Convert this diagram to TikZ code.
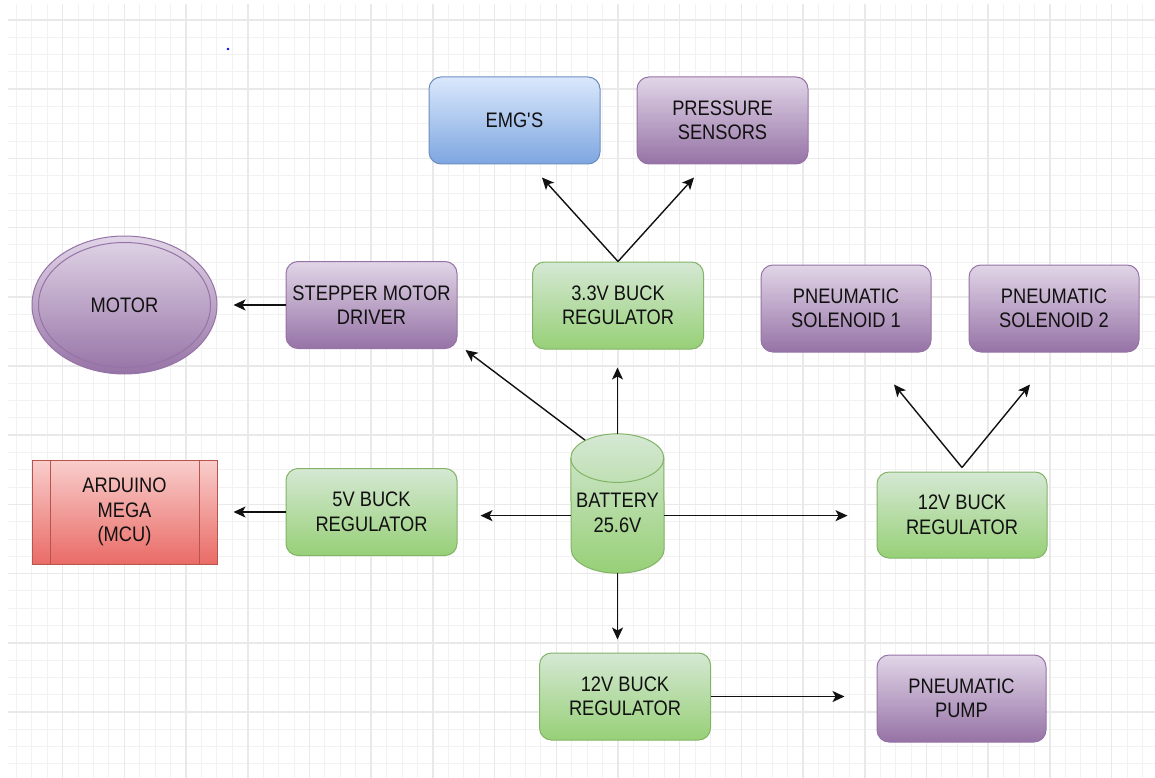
\documentclass[tikz,border=0pt]{standalone}
\usepackage{fontspec}
\setmainfont{Liberation Sans}[FakeStretch=0.87]
\usetikzlibrary{shapes.geometric,arrows.meta,calc}

\definecolor{gridminor}{HTML}{F2F2F2}
\definecolor{gridmajor}{HTML}{E9E9E9}
\definecolor{greenA}{HTML}{D5E8D4}
\definecolor{greenB}{HTML}{97D077}
\definecolor{greenL}{HTML}{82B366}
\definecolor{purpA}{HTML}{E1D5E7}
\definecolor{purpB}{HTML}{9673A6}
\definecolor{purpL}{HTML}{9673A6}
\definecolor{blueA}{HTML}{DAE8FC}
\definecolor{blueB}{HTML}{7EA6E0}
\definecolor{blueL}{HTML}{6C8EBF}
\definecolor{redA}{HTML}{F8CECC}
\definecolor{redB}{HTML}{EA6B66}
\definecolor{redL}{HTML}{B85450}
\definecolor{ink}{HTML}{111111}

\tikzset{
  block/.style={rectangle, rounded corners=12pt, minimum width=171pt, minimum height=87pt,
    inner sep=2pt, align=center, line width=1pt, text=ink,
    font=\fontsize{21}{24.5}\selectfont},
  greenbox/.style={block, draw=greenL, top color=greenA, bottom color=greenB},
  purplebox/.style={block, draw=purpL, top color=purpA, bottom color=purpB},
  bluebox/.style={block, draw=blueL, top color=blueA, bottom color=blueB},
  arr/.style={line width=1.4pt, draw=ink, -{Stealth[length=12pt,width=11pt,inset=3pt]}},
  minorline/.style={draw=gridminor, line width=1pt},
  majorline/.style={draw=gridmajor, line width=1.5pt},
}

\begin{document}
\begin{tikzpicture}[x=1pt,y=-1pt]
  \useasboundingbox[fill=white] (0,0) rectangle (1155,778);

  % background grid
  \foreach \i in {-3,...,70} {
    \pgfmathsetmacro\xx{62.7+15.425*\i}
    \draw[minorline] (\xx,4) -- (\xx,778);
  }
  \foreach \j in {0,...,43} {
    \pgfmathsetmacro\yy{20+17.3*\j}
    \draw[minorline] (8,\yy) -- (1155,\yy);
  }
  \foreach \i in {0,...,17} {
    \pgfmathsetmacro\xx{62.7+61.7*\i}
    \draw[majorline] (\xx,4) -- (\xx,778);
  }
  \foreach \j in {0,...,10} {
    \pgfmathsetmacro\yy{20+69.2*\j}
    \draw[majorline] (8,\yy) -- (1155,\yy);
  }

  % stray dot
  \fill[blue] (228,49) circle[radius=1.3pt];

  % sensors
  \node[bluebox] (emg) at (514.5,120.5) {EMG\textquotesingle S};
  \node[purplebox] (press) at (722.5,120.5) {PRESSURE\\SENSORS};

  % 3.3 V branch
  \node[greenbox] (buck33) at (618,305.5) {3.3V BUCK\\REGULATOR};

  % motor branch
  \node[purplebox] (stepper) at (371.5,305) {STEPPER MOTOR\\DRIVER};
  \node[ellipse, minimum width=185pt, minimum height=138pt, inner sep=0pt,
        draw=purpL, line width=1pt, top color=purpA, bottom color=purpB,
        text=ink, font=\fontsize{21}{24.5}\selectfont] (motor) at (124.5,305) {};
  \draw[draw=purpL, line width=1pt] (motor.center) ellipse[x radius=86pt, y radius=62.5pt];
  \node[text=ink, font=\fontsize{21}{24.5}\selectfont] at (motor.center) {MOTOR};

  % controller branch
  \node[rectangle, minimum width=185pt, minimum height=104pt, inner sep=0pt,
        draw=redL, line width=1pt, top color=redA, bottom color=redB, align=center,
        text=ink, font=\fontsize{21}{24.5}\selectfont] (ard) at (124.5,512) {ARDUINO\\MEGA\\(MCU)};
  \draw[draw=redL, line width=1pt] ($(ard.north west)+(18.5,0)$) -- ($(ard.south west)+(18.5,0)$);
  \draw[draw=redL, line width=1pt] ($(ard.north east)+(-18.5,0)$) -- ($(ard.south east)+(-18.5,0)$);
  \node[greenbox] (five) at (371.5,512) {5V BUCK\\REGULATOR};

  % battery (cylinder drawn around the node body)
  \node[rectangle, minimum width=93pt, minimum height=114.7pt, inner sep=0pt, align=center,
        text=ink, font=\fontsize{21}{24.5}\selectfont] (bat) at (617.5,515.65) {};
  \path[draw=greenL, line width=1pt, top color=greenA, bottom color=greenB]
    (bat.north west) arc[start angle=180, end angle=0, x radius=46.5pt, y radius=24.3pt]
    -- ($(bat.south east)+(0,-24.3)$)
    arc[start angle=0, end angle=-180, x radius=46.5pt, y radius=24.3pt]
    -- cycle;
  \draw[draw=greenL, line width=1pt]
    (bat.north west) arc[start angle=180, end angle=360, x radius=46.5pt, y radius=24.3pt];
  \node[text=ink, align=center, font=\fontsize{21}{24.5}\selectfont] at ($(bat.center)+(0,-3)$) {BATTERY\\25.6V};
  \coordinate (battop) at ($(bat.north)+(0,-24.3)$);

  % 12 V branches
  \node[greenbox, minimum width=170pt, minimum height=86pt] (twelveA) at (962,515) {12V BUCK\\REGULATOR};
  \node[purplebox, minimum width=170pt] (sol1) at (846,308.5) {PNEUMATIC\\SOLENOID 1};
  \node[purplebox, minimum width=170pt] (sol2) at (1054,308.5) {PNEUMATIC\\SOLENOID 2};
  \node[greenbox] (twelveB) at (625,696.5) {12V BUCK\\REGULATOR};
  \node[purplebox, minimum width=169pt] (pump) at (961.5,698.5) {PNEUMATIC\\PUMP};

  % connectors
  \draw[arr] (stepper.west) -- ($(motor.east)+(16,0)$);
  \draw[arr] (five.west) -- ($(ard.east)+(16,0)$);
  \draw[arr, shorten >=23pt] (bat.west) -- (bat.west -| five.east);
  \draw[arr, shorten >=29pt] (bat.east) -- (bat.east -| twelveA.west);
  \draw[arr, shorten >=13pt] (bat.south) -- (bat.south |- twelveB.north);
  \draw[arr, shorten >=18pt] (battop) -- (battop |- buck33.south);
  \draw[arr] ($(bat.north)+(-32.5,-18)$) -- ($(stepper.south east)+(8,1)$);
  \draw[arr] (buck33.north) -- ($(emg.south)+(27.5,13)$);
  \draw[arr] (buck33.north) -- ($(press.south)+(-28.5,13)$);
  \draw[arr] ($(twelveA.north)+(0,-4)$) -- ($(sol1.south)+(48,32)$);
  \draw[arr] ($(twelveA.north)+(0,-4)$) -- ($(sol2.south)+(-24,32)$);
  \draw[arr, shorten >=32pt] (twelveB.east) -- (twelveB.east -| pump.west);
\end{tikzpicture}
\end{document}
